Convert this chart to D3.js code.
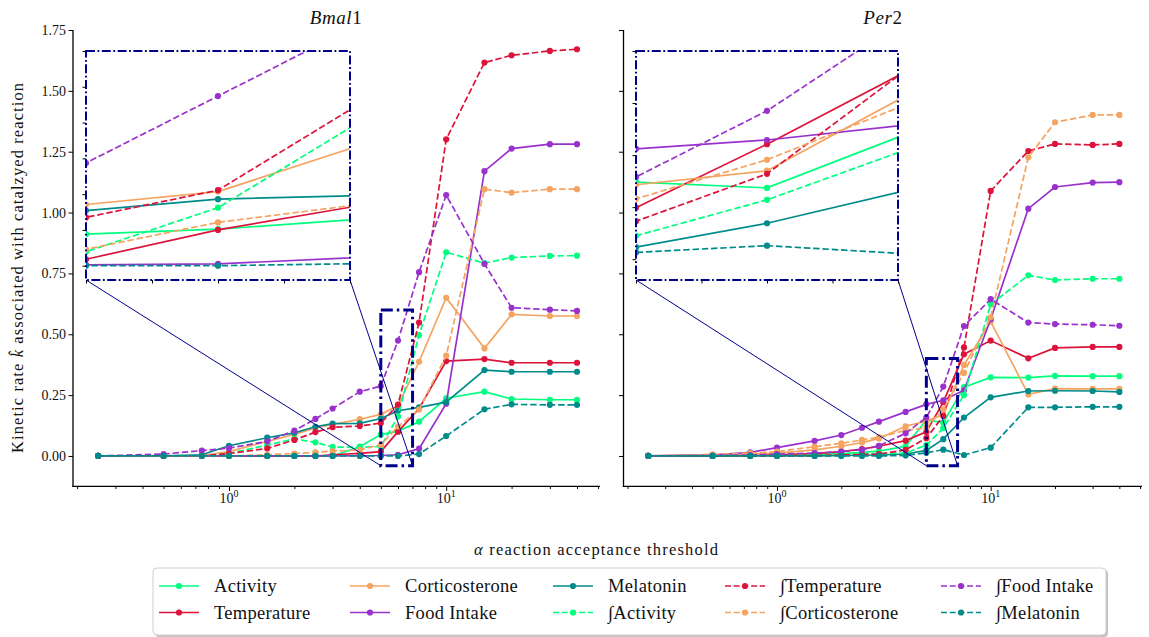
<!DOCTYPE html>
<html><head><meta charset="utf-8">
<script src="https://cdn.jsdelivr.net/npm/d3@7"></script>
<style>
body{margin:0;background:#fff}
text{font-family:"Liberation Serif",serif;fill:#111}
</style>
</head><body>
<svg id="c" width="1149" height="637"></svg>
<script>
// ---------------- DATA ----------------
const X = [0.25,0.5,0.75,1,1.5,2,2.5,3,4,5,6,7.5,10,15,20,30,40];

const bmalActivity       = [0,0,0,0,0,0,0,0,0.038,0.088,0.102,0.141,0.237,0.264,0.234,0.231,0.231];
const bmalTemperature    = [0,0,0,0,0,0,0,0.005,0.011,0.018,0.100,0.195,0.390,0.398,0.383,0.383,0.383];
const bmalCorticosterone = [0,0,0.002,0.018,0.060,0.088,0.115,0.130,0.151,0.171,0.207,0.387,0.650,0.442,0.582,0.575,0.575];
const bmalFoodIntake     = [0,0,0,0,0,0,0,0,0.001,0.002,0.005,0.030,0.215,1.170,1.263,1.281,1.281];
const bmalMelatonin      = [0,0,0.005,0.042,0.075,0.095,0.120,0.133,0.134,0.154,0.186,0.200,0.221,0.353,0.346,0.346,0.346];
const bmalIntActivity    = [0,0,0,0.010,0.045,0.070,0.056,0.037,0.035,0.039,0.162,0.497,0.837,0.792,0.815,0.822,0.823];
const bmalIntTemperature = [0,0,0,0.010,0.031,0.066,0.098,0.118,0.123,0.135,0.211,0.548,1.301,1.616,1.646,1.664,1.671];
const bmalIntCort        = [0,0,0,0,0.005,0.010,0.015,0.020,0.025,0.046,0.121,0.191,0.412,1.096,1.082,1.096,1.096];
const bmalIntFoodIntake  = [0,0.008,0.022,0.032,0.060,0.104,0.152,0.195,0.264,0.287,0.474,0.755,1.072,0.789,0.609,0.601,0.596];
const bmalIntMelatonin   = [0,0,0,0,0,0,0,0,0,0,0,0.008,0.082,0.192,0.212,0.210,0.210];

const perActivity        = [0,0,0.002,0.004,0.006,0.010,0.015,0.020,0.040,0.148,0.137,0.283,0.323,0.322,0.329,0.328,0.328];
const perTemperature     = [0,0,0.002,0.005,0.010,0.018,0.028,0.040,0.063,0.099,0.221,0.418,0.474,0.401,0.444,0.448,0.448];
const perCorticosterone  = [0,0.006,0.008,0.012,0.025,0.040,0.055,0.072,0.122,0.143,0.170,0.374,0.552,0.253,0.277,0.276,0.276];
const perFoodIntake      = [0,0.004,0.015,0.034,0.062,0.086,0.116,0.141,0.181,0.212,0.229,0.270,0.562,1.016,1.105,1.123,1.125];
const perMelatonin       = [0,0,0,0,0,0.002,0.003,0.004,0.008,0.023,0.069,0.158,0.241,0.267,0.268,0.267,0.263];
const perIntActivity     = [0,0,0,0.002,0.004,0.006,0.008,0.010,0.012,0.045,0.114,0.250,0.623,0.742,0.723,0.728,0.728];
const perIntTemperature  = [0,0,0,0,0.002,0.004,0.006,0.008,0.025,0.073,0.164,0.446,1.089,1.253,1.282,1.278,1.282];
const perIntCort         = [0,0.006,0.012,0.018,0.038,0.052,0.066,0.077,0.105,0.116,0.191,0.341,0.570,1.227,1.371,1.401,1.401];
const perIntFoodIntake   = [0,0.002,0.004,0.008,0.012,0.018,0.026,0.042,0.093,0.158,0.285,0.534,0.644,0.548,0.542,0.539,0.535];
const perIntMelatonin    = [0,0,0,0,0,0,0,0,0.002,0.013,0.026,0.004,0.034,0.200,0.200,0.202,0.202];

const seriesNames = ["Activity","Temperature","Corticosterone","Food Intake","Melatonin",
                     "∫Activity","∫Temperature","∫Corticosterone","∫Food Intake","∫Melatonin"];
const seriesColors = ["#00ff7f","#dc143c","#f4a460","#9932cc","#008b8b",
                      "#00ff7f","#dc143c","#f4a460","#9932cc","#008b8b"];
const seriesDashed = [false,false,false,false,false,true,true,true,true,true];

const bmalSeries = [bmalActivity,bmalTemperature,bmalCorticosterone,bmalFoodIntake,bmalMelatonin,
                    bmalIntActivity,bmalIntTemperature,bmalIntCort,bmalIntFoodIntake,bmalIntMelatonin];
const perSeries  = [perActivity,perTemperature,perCorticosterone,perFoodIntake,perMelatonin,
                    perIntActivity,perIntTemperature,perIntCort,perIntFoodIntake,perIntMelatonin];

const yTicks = [0,0.25,0.5,0.75,1.0,1.25,1.5,1.75];
const xMajorTicks = [1,10];
const xMinorTicks = [0.2,0.3,0.4,0.5,0.6,0.7,0.8,0.9,2,3,4,5,6,7,8,9,20,30,40,50];
const insetXTicks = [5,5.5,6,6.5,7];
const bmalInsetYTicks = [0,0.1,0.2,0.3,0.4,0.5,0.6];
const perInsetYTicks = [0,0.1,0.2,0.3,0.4];

// ---------------- DRAW ----------------
const svg = d3.select("#c");
const NAVY = "#00008b";
const DASH = "6.5,2.8";

const yMain = d3.scaleLinear().domain([-0.125, 1.75]).range([486.4, 30]);

const panels = [
  {title:"Bmal", num:"1", series:bmalSeries, xr:[73,600], showY:true,
   inset:[86,350,51,280], insetY:[-0.04,0.6], insetYTicks:bmalInsetYTicks, cx:336},
  {title:"Per", num:"2", series:perSeries, xr:[623.5,1142], showY:false,
   inset:[636,898,51,280], insetY:[-0.04,0.4], insetYTicks:perInsetYTicks, cx:883}
];

function styleAxis(s){
  s.attr("font-family",null).attr("font-size",null);
  s.selectAll(".tick line").attr("stroke","#000").attr("stroke-width",1);
  s.select(".domain").remove();
}

function drawSeries(g, xs, ys, data, clipId){
  const cg = g.append("g").attr("clip-path",`url(#${clipId})`);
  data.forEach((vals,i)=>{
    const pts = X.map((xv,j)=>[xs(xv), ys(vals[j])]);
    cg.append("path")
      .attr("d", d3.line()(pts))
      .attr("fill","none")
      .attr("stroke", seriesColors[i])
      .attr("stroke-width",1.7)
      .attr("stroke-dasharray", seriesDashed[i]?DASH:null);
    cg.selectAll(null).data(pts).join("circle")
      .attr("cx",d=>d[0]).attr("cy",d=>d[1]).attr("r",3.1)
      .attr("fill",seriesColors[i]);
  });
}

panels.forEach((p,pi)=>{
  const xs = d3.scaleLog().domain([Math.pow(10,-0.718), Math.pow(10,1.708)]).range(p.xr);
  const g = svg.append("g");

  const clipId = "clipMain"+pi;
  svg.append("clipPath").attr("id",clipId).append("rect")
    .attr("x",p.xr[0]).attr("y",yMain.range()[1]-5)
    .attr("width",p.xr[1]-p.xr[0]).attr("height",yMain.range()[0]-yMain.range()[1]+5);

  const ya = d3.axisLeft(yMain).tickValues(yTicks).tickSize(4.5).tickPadding(2.5)
    .tickFormat(p.showY ? d3.format(".2f") : "");
  g.append("g").attr("transform",`translate(${p.xr[0]},0)`).call(ya).call(styleAxis)
    .selectAll("text").attr("font-size",14).attr("fill","#222");

  const xa = d3.axisBottom(xs).tickValues(xMajorTicks).tickSize(4.5).tickFormat("");
  g.append("g").attr("transform",`translate(0,${yMain.range()[0]})`).call(xa).call(styleAxis);
  const xm = d3.axisBottom(xs).tickValues(xMinorTicks).tickSize(2.6).tickFormat("");
  g.append("g").attr("transform",`translate(0,${yMain.range()[0]})`).call(xm).call(styleAxis);
  xMajorTicks.forEach(t=>{
    const tx = g.append("text").attr("x",xs(t)).attr("y",503).attr("text-anchor","middle")
      .attr("font-size",14).attr("fill","#222");
    tx.append("tspan").text("10");
    tx.append("tspan").attr("dy",-6).attr("font-size",10).text(String(Math.round(Math.log10(t))));
  });

  g.append("line").attr("x1",p.xr[0]).attr("x2",p.xr[0]).attr("y1",yMain.range()[1]).attr("y2",yMain.range()[0]+0.6)
    .attr("stroke","#000").attr("stroke-width",1.3);
  g.append("line").attr("x1",p.xr[0]-0.6).attr("x2",p.xr[1]).attr("y1",yMain.range()[0]).attr("y2",yMain.range()[0])
    .attr("stroke","#000").attr("stroke-width",1.3);

  const tt = g.append("text").attr("x",p.cx).attr("y",24).attr("text-anchor","middle")
    .attr("font-size",19).attr("letter-spacing",0.6);
  tt.append("tspan").attr("font-style","italic").text(p.title);
  tt.append("tspan").text(p.num);

  drawSeries(g, xs, yMain, p.series, clipId);

  const [ix0,ix1,iy0,iy1] = p.inset;
  const rx0 = xs(5), rx1 = xs(7), ry0 = yMain(p.insetY[1]), ry1 = yMain(p.insetY[0]);
  g.append("rect").attr("x",rx0).attr("y",ry0).attr("width",rx1-rx0).attr("height",ry1-ry0)
    .attr("fill","none").attr("stroke",NAVY).attr("stroke-width",3)
    .attr("stroke-dasharray","12,4,2.5,4");
  g.append("line").attr("x1",ix0).attr("y1",iy1).attr("x2",rx0).attr("y2",ry1)
    .attr("stroke",NAVY).attr("stroke-width",1);
  g.append("line").attr("x1",ix1).attr("y1",iy1).attr("x2",rx1).attr("y2",ry1)
    .attr("stroke",NAVY).attr("stroke-width",1);

  const ixs = d3.scaleLinear().domain([5,7]).range([ix0,ix1]);
  const iys = d3.scaleLinear().domain(p.insetY).range([iy1,iy0]);
  const ig = svg.append("g");
  ig.append("rect").attr("x",ix0).attr("y",iy0).attr("width",ix1-ix0).attr("height",iy1-iy0).attr("fill","#fff");
  const clipI = "clipInset"+pi;
  svg.append("clipPath").attr("id",clipI).append("rect")
    .attr("x",ix0).attr("y",iy0).attr("width",ix1-ix0).attr("height",iy1-iy0);
  drawSeries(ig, ixs, iys, p.series, clipI);
  ig.append("g").attr("transform",`translate(${ix0},0)`)
    .call(d3.axisLeft(iys).tickValues(p.insetYTicks).tickSize(3.5).tickFormat("")).call(styleAxis);
  ig.append("g").attr("transform",`translate(0,${iy1})`)
    .call(d3.axisBottom(ixs).tickValues(insetXTicks).tickSize(3.5).tickFormat("")).call(styleAxis);
  ig.append("rect").attr("x",ix0).attr("y",iy0).attr("width",ix1-ix0).attr("height",iy1-iy0)
    .attr("fill","none").attr("stroke",NAVY).attr("stroke-width",2)
    .attr("stroke-dasharray","9,2.5,1.8,2.5");
});

const yl = svg.append("text").attr("transform","translate(23,268) rotate(-90)")
  .attr("text-anchor","middle").attr("font-size",16.5)
  .attr("textLength",370).attr("lengthAdjust","spacing");
yl.append("tspan").text("Kinetic rate ");
yl.append("tspan").attr("font-style","italic").text("k\u0302");
yl.append("tspan").text(" associated with catalzyed reaction");

const xl = svg.append("text").attr("x",596).attr("y",555).attr("text-anchor","middle")
  .attr("font-size",16.5).attr("textLength",244).attr("lengthAdjust","spacing");
xl.append("tspan").attr("font-style","italic").text("α");
xl.append("tspan").text(" reaction acceptance threshold");

const lg = svg.append("g");
lg.append("rect").attr("x",155).attr("y",570).attr("width",953).attr("height",67).attr("rx",4)
  .attr("fill","#9a9a9a").attr("opacity",0.6);
lg.append("rect").attr("x",153).attr("y",568).attr("width",953).attr("height",67).attr("rx",4)
  .attr("fill","#fff").attr("stroke","#cfcfcf").attr("stroke-width",1);
const colX = [159,350,553,725,941];
const rowY = [586,612.5];
seriesNames.forEach((nm,i)=>{
  const col = Math.floor(i/2), row = i%2;
  const hx = colX[col], hy = rowY[row];
  lg.append("line").attr("x1",hx).attr("x2",hx+40).attr("y1",hy).attr("y2",hy)
    .attr("stroke",seriesColors[i]).attr("stroke-width",1.7)
    .attr("stroke-dasharray",seriesDashed[i]?"6,2.7":null);
  lg.append("circle").attr("cx",hx+20).attr("cy",hy).attr("r",3.1).attr("fill",seriesColors[i]);
  lg.append("text").attr("x",hx+55).attr("y",hy).attr("dy","0.35em")
    .attr("font-size",18.5).attr("letter-spacing",0.3).text(nm);
});
</script>
</body></html>
